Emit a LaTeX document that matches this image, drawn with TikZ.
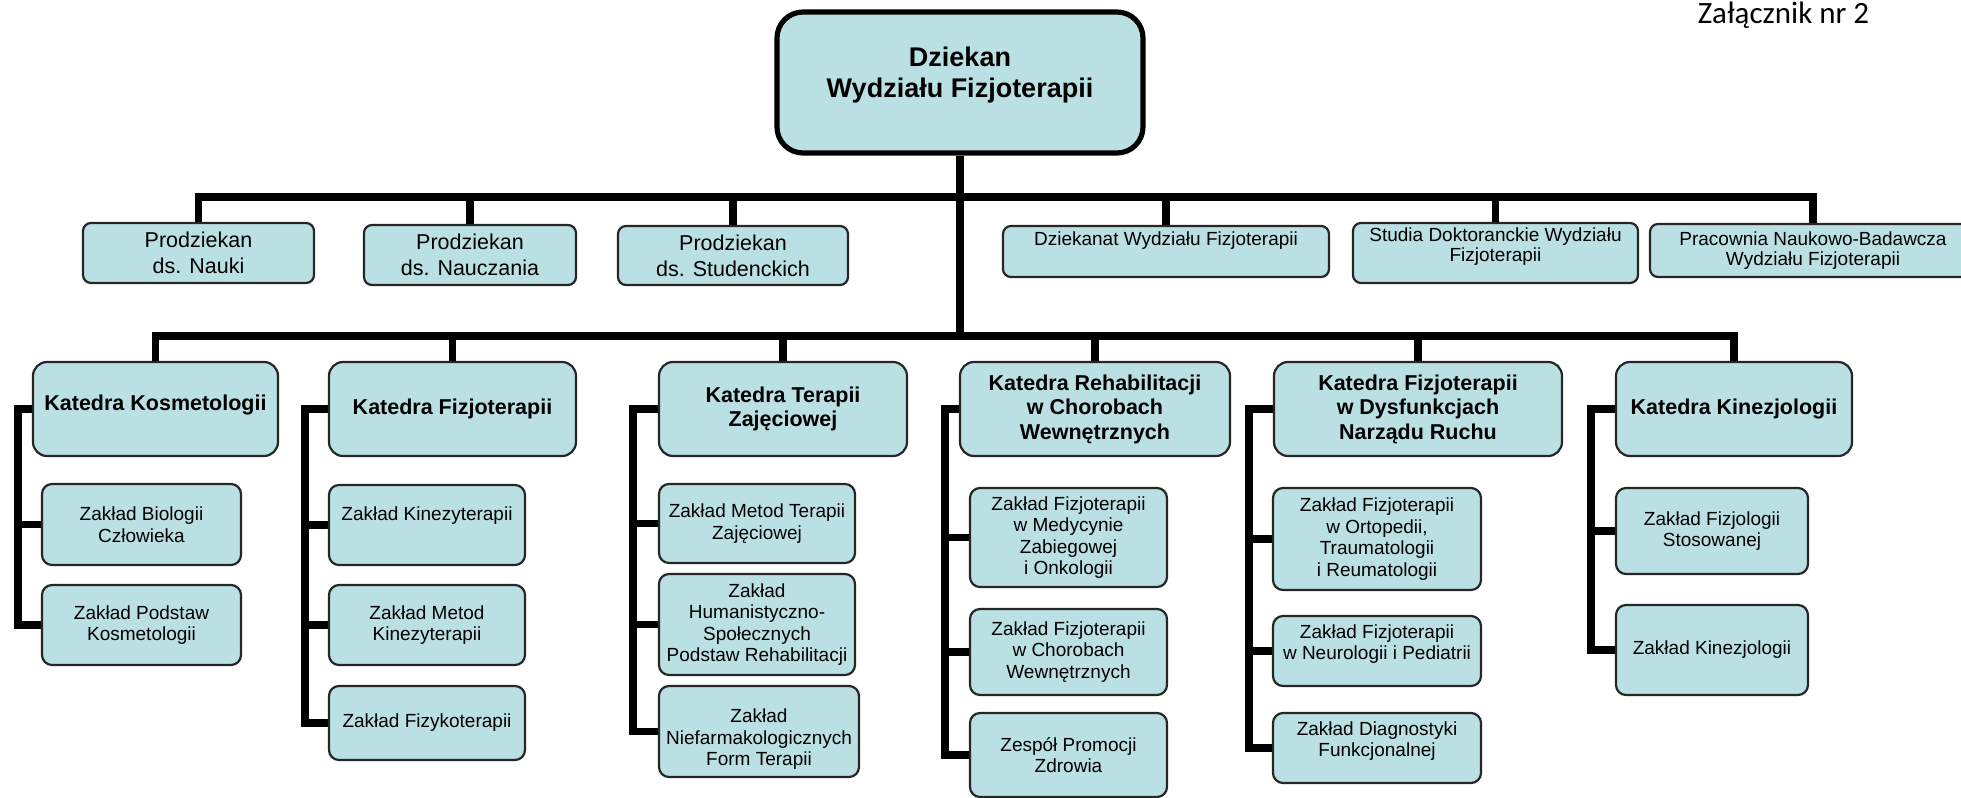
\documentclass[tikz,border=0pt]{standalone}
\usepackage{fontspec}
\setmainfont{Liberation Sans}
\newfontfamily\annexfont{Carlito}
\definecolor{boxfill}{RGB}{187,224,227}

\begin{document}
\begin{tikzpicture}[x=0.5pt,y=-0.5pt,
    box/.style={draw=black!85,fill=boxfill,line width=1.1pt,align=center,inner sep=1pt},
    dean/.style={box,draw=black,line width=2.6pt,rounded corners=13pt,font=\bfseries\fontsize{13.5}{15.5}\selectfont},
    prodz/.style={box,rounded corners=4pt,font=\fontsize{10.75}{13}\selectfont},
    unit/.style={box,rounded corners=4pt,font=\fontsize{9.5}{10}\selectfont},
    katedra/.style={box,rounded corners=7pt,minimum height=47pt,font=\bfseries\fontsize{10.75}{12.25}\selectfont},
    zaklad/.style={box,rounded corners=5pt,font=\fontsize{9.5}{10.75}\selectfont},
    conn/.style={line width=3.6pt}]
\useasboundingbox (0,0) rectangle (1961,798);

\node[font=\annexfont\fontsize{15.5}{18}\selectfont,anchor=base] (annex) at (1783.5,23) {Załącznik nr 2};

\node[dean,minimum width=183pt,minimum height=70.5pt,text depth=10pt] (d_0) at (960,82.5) {Dziekan\\Wydziału Fizjoterapii};

\node[prodz,minimum width=115.5pt,minimum height=30pt] (p_1) at (198.5,253) {Prodziekan\\ds. Nauki};
\node[prodz,minimum width=106pt,minimum height=30pt] (p_2) at (470,255) {Prodziekan\\ds. Nauczania};
\node[prodz,minimum width=115pt,minimum height=29.5pt] (p_3) at (733,255.5) {Prodziekan\\ds. Studenckich};
\node[unit,minimum width=163pt,minimum height=25.5pt,text depth=13pt] (p_4) at (1166,251.5) {Dziekanat Wydziału Fizjoterapii};
\node[unit,minimum width=142.5pt,minimum height=30pt,text depth=8pt] (p_5) at (1495.5,253) {Studia Doktoranckie Wydziału\\Fizjoterapii};
\node[unit,minimum width=163pt,minimum height=26.5pt] (p_6) at (1813,250.5) {Pracownia Naukowo-Badawcza\\Wydziału Fizjoterapii};

\node[katedra,minimum width=122.5pt,text depth=6pt] (k_1) at (155.5,409) {Katedra Kosmetologii};
\node[katedra,minimum width=123.5pt] (k_2) at (452.5,409) {Katedra Fizjoterapii};
\node[katedra,minimum width=124pt] (k_3) at (783,409) {Katedra Terapii\\Zajęciowej};
\node[katedra,minimum width=135pt] (k_4) at (1095,409) {Katedra Rehabilitacji\\w Chorobach\\Wewnętrznych};
\node[katedra,minimum width=144pt] (k_5) at (1418,409) {Katedra Fizjoterapii\\w Dysfunkcjach\\Narządu Ruchu};
\node[katedra,minimum width=118pt] (k_6) at (1734,409) {Katedra Kinezjologii};

\node[zaklad,minimum width=99.5pt,minimum height=40.5pt] (z_11) at (141.5,524.5) {Zakład Biologii\\Człowieka};
\node[zaklad,minimum width=99.5pt,minimum height=40pt] (z_12) at (141.5,625) {Zakład Podstaw\\Kosmetologii};

\node[zaklad,minimum width=98pt,minimum height=40pt,text depth=11pt] (z_21) at (427,525) {Zakład Kinezyterapii};
\node[zaklad,minimum width=98pt,minimum height=40pt] (z_22) at (427,625) {Zakład Metod\\Kinezyterapii};
\node[zaklad,minimum width=98pt,minimum height=37pt] (z_23) at (427,723) {Zakład Fizykoterapii};

\node[zaklad,minimum width=98pt,minimum height=39.5pt] (z_31) at (757,523.5) {Zakład Metod Terapii\\Zajęciowej};
\node[zaklad,minimum width=98pt,minimum height=50.5pt] (z_32) at (757,624.5) {Zakład\\Humanistyczno-\\Społecznych\\Podstaw Rehabilitacji};
\node[zaklad,minimum width=100pt,minimum height=45.5pt,text height=36pt] (z_33) at (759,731.5) {Zakład\\Niefarmakologicznych\\Form Terapii};

\node[zaklad,minimum width=98.5pt,minimum height=49.5pt] (z_41) at (1068.5,537.5) {Zakład Fizjoterapii\\w Medycynie\\Zabiegowej\\i Onkologii};
\node[zaklad,minimum width=98.5pt,minimum height=43pt] (z_42) at (1068.5,652) {Zakład Fizjoterapii\\w Chorobach\\Wewnętrznych};
\node[zaklad,minimum width=98.5pt,minimum height=42pt] (z_43) at (1068.5,755) {Zespół Promocji\\Zdrowia};

\node[zaklad,minimum width=104pt,minimum height=51pt] (z_51) at (1377,539) {Zakład Fizjoterapii\\w Ortopedii,\\Traumatologii\\i Reumatologii};
\node[zaklad,minimum width=104pt,minimum height=35pt,text depth=9pt] (z_52) at (1377,651) {Zakład Fizjoterapii\\w Neurologii i Pediatrii};
\node[zaklad,minimum width=104pt,minimum height=35pt,text depth=9pt] (z_53) at (1377,748) {Zakład Diagnostyki\\Funkcjonalnej};

\node[zaklad,minimum width=96pt,minimum height=43pt] (z_61) at (1712,531) {Zakład Fizjologii\\Stosowanej};
\node[zaklad,minimum width=96pt,minimum height=45pt] (z_62) at (1712,650) {Zakład Kinezjologii};

\coordinate (b_1) at (960,197);
\coordinate (b_2) at (960,336);
\foreach \c/\x in {1/18,2/305,3/633,4/945,5/1249,6/1591}
    \coordinate (c_\c) at (\x,0);

\draw[conn] (d_0.south) -- (b_2);
\draw[conn] (p_1.north) |- (b_1) -| (p_6.north);
\foreach \n in {p_2,p_3,p_4,p_5}
    \draw[conn] (\n.north) -- (\n.north |- b_1);
\draw[conn] (k_1.north) |- (b_2) -| (k_6.north);
\foreach \n in {k_2,k_3,k_4,k_5}
    \draw[conn] (\n.north) -- (\n.north |- b_2);

\foreach \c/\z in {1/2,2/3,3/3,4/3,5/3,6/2}
    \draw[conn] (k_\c.west) -- (k_\c.west -| c_\c) |- (z_\c\z.west);
\foreach \c/\z in {1/1,2/1,2/2,3/1,3/2,4/1,4/2,5/1,5/2,6/1}
    \draw[conn] (z_\c\z.west) -- (z_\c\z.west -| c_\c);
\end{tikzpicture}
\end{document}
